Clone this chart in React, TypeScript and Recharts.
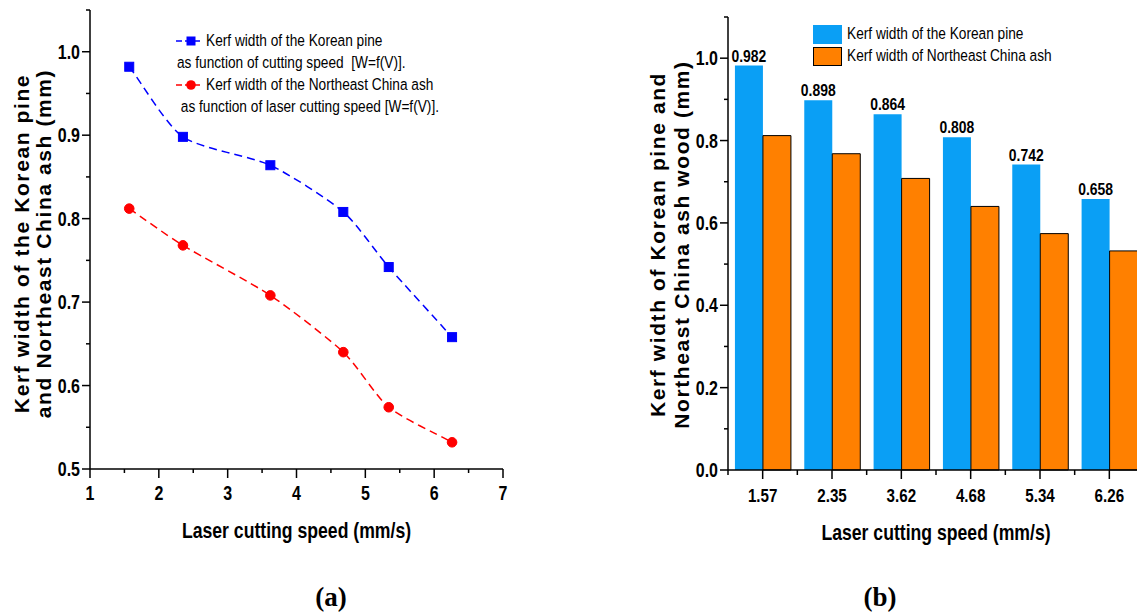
import React from 'react';
import { LineChart, Line, XAxis, YAxis, BarChart, Bar, LabelList, Legend } from 'recharts';

// ---------- data ----------
const speeds = [1.57, 2.35, 3.62, 4.68, 5.34, 6.26];
const speedLabels = ['1.57', '2.35', '3.62', '4.68', '5.34', '6.26'];
const pineKerf = [0.982, 0.898, 0.864, 0.808, 0.742, 0.658];
const ashKerf = [0.812, 0.768, 0.708, 0.64, 0.574, 0.532];

const lineXTicks = [1, 1.5, 2, 2.5, 3, 3.5, 4, 4.5, 5, 5.5, 6, 6.5, 7];
const lineYTicks = [0.5, 0.55, 0.6, 0.65, 0.7, 0.75, 0.8, 0.85, 0.9, 0.95, 1.0, 1.05];
const barYTicks = [0, 0.1, 0.2, 0.3, 0.4, 0.5, 0.6, 0.7, 0.8, 0.9, 1.0, 1.1];

const lineLegendPine = ['Kerf width of the Korean pine', 'as function of cutting speed  [W=f(V)].'];
const lineLegendAsh = ['Kerf width of the Northeast China ash', ' as function of laser cutting speed [W=f(V)].'];
const barLegendPine = 'Kerf width of the Korean pine';
const barLegendAsh = 'Kerf width of Northeast China ash';

const lineYTitle = ['Kerf width of the Korean pine', 'and Northeast China ash (mm)'];
const barYTitle = ['Kerf width of Korean pine and', 'Northeast China ash wood (mm)'];
const xTitle = 'Laser cutting speed (mm/s)';

const lineData = speeds.map((s, i) => ({ speed: s, pine: pineKerf[i], ash: ashKerf[i] }));
const barData = speedLabels.map((s, i) => ({ speed: s, pine: pineKerf[i], ash: ashKerf[i] }));

// ---------- styles ----------
const SANS = "'Liberation Sans', Arial, sans-serif";
const SERIF = "'Liberation Serif', 'Times New Roman', serif";
const NARROW_SCALE = 0.82;
const BLUE_BAR = '#0A9FF5';
const ORANGE = '#FF8000';
const AXIS_W = 1.5;

// narrow (Arial-Narrow-like) svg text
const NText = ({
  x, y, anchor = 'middle', size, bold = true, children,
}: { x: number; y: number; anchor?: string; size: number; bold?: boolean; children: any }) => (
  <g transform={`translate(${x},${y}) scale(${NARROW_SCALE},1)`}>
    <text
      x={0}
      y={0}
      dy="0.36em"
      textAnchor={anchor as any}
      style={{ fontFamily: SANS, fontWeight: bold ? 'bold' : 'normal', fontSize: size, fill: '#000' }}
    >
      {children}
    </text>
  </g>
);

// Cardinal spline curve factory (passes through every data point)
const cardinalCurve = (tension: number) => (context: any) => {
  let pts: [number, number][] = [];
  return {
    areaStart() {},
    areaEnd() {},
    lineStart() {
      pts = [];
    },
    lineEnd() {
      const n = pts.length;
      if (n === 0) return;
      context.moveTo(pts[0][0], pts[0][1]);
      if (n === 1) return;
      if (n === 2) {
        context.lineTo(pts[1][0], pts[1][1]);
        return;
      }
      const k = (1 - tension) / 2;
      const tan = (i: number) => {
        const a = pts[Math.max(i - 1, 0)];
        const b = pts[Math.min(i + 1, n - 1)];
        const f = i === 0 || i === n - 1 ? 2 * k : k;
        return [(b[0] - a[0]) * f, (b[1] - a[1]) * f];
      };
      for (let i = 0; i < n - 1; i++) {
        const t0 = tan(i);
        const t1 = tan(i + 1);
        context.bezierCurveTo(
          pts[i][0] + t0[0] / 3,
          pts[i][1] + t0[1] / 3,
          pts[i + 1][0] - t1[0] / 3,
          pts[i + 1][1] - t1[1] / 3,
          pts[i + 1][0],
          pts[i + 1][1]
        );
      }
    },
    point(x: number, y: number) {
      pts.push([+x, +y]);
    },
  };
};
const splineType: any = cardinalCurve(0.3);

// ---------- tick renderers ----------
const isTenth = (v: number) => Math.abs(v * 10 - Math.round(v * 10)) < 1e-6;

const makeYTick = (isMajor: (v: number) => boolean) => (props: any) => {
  const { x, y, payload } = props;
  const v = payload.value as number;
  const major = isMajor(v);
  return (
    <g>
      <line x1={x} x2={x - (major ? 8 : 4)} y1={y} y2={y} stroke="#000" strokeWidth={AXIS_W} />
      {major && (
        <NText x={x - 10} y={y} anchor="end" size={19.5}>
          {v.toFixed(1)}
        </NText>
      )}
    </g>
  );
};

const lineXTick = (props: any) => {
  const { x, y, payload } = props;
  const v = payload.value as number;
  const major = Math.abs(v - Math.round(v)) < 1e-6;
  return (
    <g>
      <line x1={x} x2={x} y1={y} y2={y + (major ? 9 : 4)} stroke="#000" strokeWidth={AXIS_W} />
      {major && (
        <NText x={x} y={y + 24} size={19.5}>
          {String(v)}
        </NText>
      )}
    </g>
  );
};

const barXTick = (props: any) => {
  const { x, y, payload, index } = props;
  const half = typeof payload.offset === 'number' ? payload.offset : 0;
  return (
    <g>
      <line x1={x} x2={x} y1={y} y2={y + 9} stroke="#000" strokeWidth={AXIS_W} />
      {half > 0 && <line x1={x - half} x2={x - half} y1={y} y2={y + 5} stroke="#000" strokeWidth={AXIS_W} />}
      {half > 0 && index === speedLabels.length - 1 && (
        <line x1={x + half} x2={x + half} y1={y} y2={y + 5} stroke="#000" strokeWidth={AXIS_W} />
      )}
      <NText x={x} y={y + 25} size={18.5}>
        {payload.value}
      </NText>
    </g>
  );
};

// ---------- axis titles ----------
const makeYTitle = (lines: string[], xs: number[], dy: number) => (props: any) => {
  const vb = props.viewBox || { x: 0, y: 0, width: 0, height: 0 };
  const cy = vb.y + vb.height / 2 + dy;
  return (
    <g>
      {lines.map((l, i) => (
        <text
          key={i}
          transform={`translate(${vb.x + xs[i]},${cy}) rotate(-90)`}
          textAnchor="middle"
          dominantBaseline="central"
          style={{ fontFamily: SANS, fontWeight: 'bold', fontSize: 21, letterSpacing: 1.6, fill: '#000' }}
        >
          {l}
        </text>
      ))}
    </g>
  );
};

const makeXTitle = (text: string, dy: number) => (props: any) => {
  const vb = props.viewBox || { x: 0, y: 0, width: 0, height: 0 };
  return (
    <NText x={vb.x + vb.width / 2} y={vb.y + dy} size={21.5}>
      {text}
    </NText>
  );
};

// ---------- markers ----------
const squareDot = (props: any) => {
  const { cx, cy, stroke, key } = props;
  if (cx == null || cy == null) return <g key={key} />;
  return <rect key={key} x={cx - 4.5} y={cy - 4.5} width={9} height={9} fill={stroke} stroke={stroke} />;
};
const circleDot = (props: any) => {
  const { cx, cy, stroke, key } = props;
  if (cx == null || cy == null) return <g key={key} />;
  return <circle key={key} cx={cx} cy={cy} r={4.8} fill={stroke} stroke={stroke} />;
};

// ---------- data labels ----------
const barValueLabel = (props: any) => {
  const { x, y, width, value } = props;
  if (x == null || y == null) return null;
  return (
    <NText x={Number(x) + Number(width) / 2} y={Number(y) - 10} size={17}>
      {Number(value).toFixed(3)}
    </NText>
  );
};

// ---------- legends ----------
const legendText: React.CSSProperties = {
  fontFamily: SANS,
  fontSize: 16.7,
  color: '#000',
  whiteSpace: 'pre',
  height: 22,
  lineHeight: '22px',
  transform: `scaleX(${NARROW_SCALE})`,
  transformOrigin: '0 50%',
};

const LineLegendIcon = ({ color, square }: { color: string; square: boolean }) => (
  <svg width={30} height={22} style={{ display: 'block', flex: 'none' }}>
    <line x1={0} x2={24} y1={11} y2={11} stroke={color} strokeWidth={1.5} strokeDasharray="6 3" />
    {square ? <rect x={10.5} y={6.5} width={9} height={9} fill={color} /> : <circle cx={15} cy={11} r={4.8} fill={color} />}
  </svg>
);

const lineLegendContent = (props: any) => {
  const payload = props.payload || [];
  const colorOf = (k: string, d: string) => (payload.find((p: any) => p.dataKey === k) || { color: d }).color;
  const pc = colorOf('pine', '#0000FF');
  const ac = colorOf('ash', '#FF0000');
  return (
    <div style={{ position: 'relative', width: 400 }}>
      <div style={{ display: 'flex', alignItems: 'center' }}>
        <LineLegendIcon color={pc} square />
        <div style={legendText}>{lineLegendPine[0]}</div>
      </div>
      <div style={{ ...legendText, marginLeft: 1 }}>{lineLegendPine[1]}</div>
      <div style={{ display: 'flex', alignItems: 'center' }}>
        <LineLegendIcon color={ac} square={false} />
        <div style={legendText}>{lineLegendAsh[0]}</div>
      </div>
      <div style={{ ...legendText, marginLeft: 1 }}>{lineLegendAsh[1]}</div>
    </div>
  );
};

const barLegendContent = () => (
  <div style={{ width: 400 }}>
    <div style={{ display: 'flex', alignItems: 'center', height: 22 }}>
      <div style={{ width: 29, height: 19, background: BLUE_BAR, marginRight: 5, flex: 'none' }} />
      <div style={legendText}>{barLegendPine}</div>
    </div>
    <div style={{ display: 'flex', alignItems: 'center', height: 22 }}>
      <div style={{ width: 27, height: 17, background: ORANGE, border: '1px solid #000', marginRight: 5, flex: 'none' }} />
      <div style={legendText}>{barLegendAsh}</div>
    </div>
  </div>
);

const figLabel: React.CSSProperties = {
  position: 'absolute',
  fontFamily: SERIF,
  fontWeight: 'bold',
  fontSize: 27,
  color: '#000',
  transform: 'translate(-50%, -50%)',
  whiteSpace: 'nowrap',
};

export default function App() {
  return (
    <div style={{ position: 'absolute', left: 0, top: 0, width: 1137, height: 616, overflow: 'hidden', background: '#fff' }}>
      {/* (a) line chart */}
      <div style={{ position: 'absolute', left: 0, top: 0 }}>
        <LineChart width={540} height={560} data={lineData} margin={{ top: 10, right: 37, left: 0, bottom: 0 }}>
          <XAxis
            dataKey="speed"
            type="number"
            domain={[1, 7]}
            ticks={lineXTicks}
            interval={0}
            height={91}
            tickSize={0}
            tickMargin={0}
            tickLine={false}
            tick={lineXTick}
            stroke="#000"
            strokeWidth={AXIS_W}
            label={makeXTitle(xTitle, 61)}
          />
          <YAxis
            type="number"
            domain={[0.5, 1.05]}
            ticks={lineYTicks}
            interval={0}
            width={90}
            tickSize={0}
            tickMargin={0}
            tickLine={false}
            tick={makeYTick(isTenth)}
            stroke="#000"
            strokeWidth={AXIS_W}
            allowDataOverflow
            label={makeYTitle(lineYTitle, [21, 43], 4)}
          />
          <Legend
            layout="horizontal"
            verticalAlign="middle"
            align="center"
            content={lineLegendContent}
            wrapperStyle={{ left: 176, top: 30, width: 340, height: 90 }}
          />
          <Line
            type={splineType}
            dataKey="pine"
            name={lineLegendPine[0]}
            stroke="#0000FF"
            strokeWidth={1.5}
            strokeDasharray="8 5"
            dot={squareDot}
            activeDot={false}
            isAnimationActive={false}
          />
          <Line
            type={splineType}
            dataKey="ash"
            name={lineLegendAsh[0]}
            stroke="#FF0000"
            strokeWidth={1.5}
            strokeDasharray="8 5"
            dot={circleDot}
            activeDot={false}
            isAnimationActive={false}
          />
        </LineChart>
      </div>

      {/* (b) bar chart */}
      <div style={{ position: 'absolute', left: 640, top: 0 }}>
        <BarChart
          width={504}
          height={560}
          data={barData}
          margin={{ top: 17, right: 0, left: 0, bottom: 0 }}
          barCategoryGap="10%"
          barGap={0}
        >
          <XAxis
            dataKey="speed"
            type="category"
            interval={0}
            height={90}
            tickSize={0}
            tickMargin={0}
            tickLine={false}
            tick={barXTick}
            stroke="#000"
            strokeWidth={AXIS_W}
            label={makeXTitle(xTitle, 62)}
          />
          <YAxis
            type="number"
            domain={[0, 1.1]}
            ticks={barYTicks}
            interval={0}
            width={88}
            tickSize={0}
            tickMargin={0}
            tickLine={false}
            tick={makeYTick((v) => Math.round(v * 10) % 2 === 0)}
            stroke="#000"
            strokeWidth={AXIS_W}
            label={makeYTitle(barYTitle, [17, 41], 1)}
          />
          <Legend
            layout="horizontal"
            verticalAlign="middle"
            align="center"
            content={barLegendContent}
            wrapperStyle={{ left: 173, top: 23, width: 320, height: 44 }}
          />
          <Bar dataKey="pine" name={barLegendPine} fill={BLUE_BAR} isAnimationActive={false}>
            <LabelList dataKey="pine" content={barValueLabel} />
          </Bar>
          <Bar dataKey="ash" name={barLegendAsh} fill={ORANGE} stroke="#000" strokeWidth={1} isAnimationActive={false} />
        </BarChart>
      </div>

      <div style={{ ...figLabel, left: 331, top: 597 }}>(a)</div>
      <div style={{ ...figLabel, left: 880, top: 597 }}>(b)</div>
    </div>
  );
}
